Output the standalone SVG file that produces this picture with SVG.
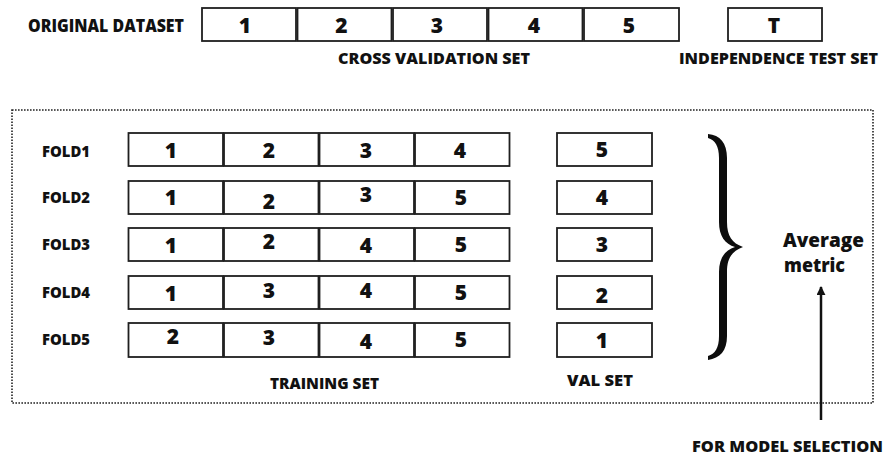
<svg xmlns="http://www.w3.org/2000/svg" width="885" height="456" viewBox="0 0 885 456">
  <style>
    .cell { fill: #ffffff; stroke: #1f1f1f; stroke-width: 1.8; }
    .lbl { font-family: "Open Sans", "Noto Sans", "Liberation Sans", sans-serif; font-weight: 800; fill: #111111; font-size: 15.5px; }
    .big { font-size: 17px; }
    .num { font-family: "Open Sans", "Noto Sans", "Liberation Sans", sans-serif; font-weight: 800; fill: #111111; font-size: 21px; text-anchor: middle; }
    .metric { font-family: "Open Sans", "Noto Sans", "Liberation Sans", sans-serif; font-weight: 800; fill: #111111; font-size: 19px; }
    .frame { fill: none; stroke: #222222; stroke-width: 1.6; stroke-dasharray: 1.6 1.4; }
    .link { stroke: #111111; stroke-width: 2.5; fill: none; }
  </style>
  <defs>
    <marker id="arrowhead" viewBox="0 0 10 10" refX="9" refY="5" markerWidth="3.8" markerHeight="3.6" orient="auto" markerUnits="strokeWidth">
      <path d="M0,0 L10,5 L0,10 Z" fill="#111111"/>
    </marker>
  </defs>

  <rect width="885" height="456" fill="#ffffff"/>

  <!-- original dataset -->
  <g id="original-dataset">
    <text class="lbl big" x="28" y="32" textLength="156" lengthAdjust="spacingAndGlyphs">ORIGINAL DATASET</text>
    <rect class="cell" x="202" y="8" width="94" height="33"/>
    <rect class="cell" x="297.5" y="8" width="94" height="33"/>
    <rect class="cell" x="393" y="8" width="94" height="33"/>
    <rect class="cell" x="488.5" y="8" width="94" height="33"/>
    <rect class="cell" x="584" y="8" width="95" height="33"/>
    <text class="num" x="245" y="33">1</text>
    <text class="num" x="341.5" y="33">2</text>
    <text class="num" x="437" y="33">3</text>
    <text class="num" x="534" y="33">4</text>
    <text class="num" x="629" y="33">5</text>
    <text class="lbl" x="338" y="64" textLength="192" lengthAdjust="spacingAndGlyphs">CROSS VALIDATION SET</text>
  </g>

  <g id="test-set">
    <rect class="cell" x="728" y="8" width="94" height="33"/>
    <text class="num" x="774" y="33">T</text>
    <text class="lbl" x="679" y="64" textLength="199" lengthAdjust="spacingAndGlyphs">INDEPENDENCE TEST SET</text>
  </g>

  <!-- cross validation folds -->
  <rect class="frame" x="12" y="110" width="861" height="293"/>

  <g id="fold1">
    <text class="lbl" x="42" y="157" textLength="48" lengthAdjust="spacingAndGlyphs">FOLD1</text>
    <rect class="cell" x="128.5" y="133" width="94.5" height="33"/>
    <rect class="cell" x="224" y="133" width="94.5" height="33"/>
    <rect class="cell" x="319.5" y="133" width="94.5" height="33"/>
    <rect class="cell" x="415" y="133" width="94.5" height="33"/>
    <rect class="cell" x="557" y="133" width="95" height="33"/>
    <text class="num" x="171" y="158">1</text>
    <text class="num" x="269" y="158">2</text>
    <text class="num" x="366" y="158">3</text>
    <text class="num" x="460" y="158">4</text>
    <text class="num" x="602" y="157">5</text>
  </g>

  <g id="fold2">
    <text class="lbl" x="42" y="203" textLength="48" lengthAdjust="spacingAndGlyphs">FOLD2</text>
    <rect class="cell" x="128.5" y="181" width="94.5" height="33"/>
    <rect class="cell" x="224" y="181" width="94.5" height="33"/>
    <rect class="cell" x="319.5" y="181" width="94.5" height="33"/>
    <rect class="cell" x="415" y="181" width="94.5" height="33"/>
    <rect class="cell" x="557" y="181" width="95" height="33"/>
    <text class="num" x="171" y="205">1</text>
    <text class="num" x="269" y="209">2</text>
    <text class="num" x="366" y="202">3</text>
    <text class="num" x="461" y="205">5</text>
    <text class="num" x="602" y="205">4</text>
  </g>

  <g id="fold3">
    <text class="lbl" x="42" y="250" textLength="48" lengthAdjust="spacingAndGlyphs">FOLD3</text>
    <rect class="cell" x="128.5" y="228" width="94.5" height="33"/>
    <rect class="cell" x="224" y="228" width="94.5" height="33"/>
    <rect class="cell" x="319.5" y="228" width="94.5" height="33"/>
    <rect class="cell" x="415" y="228" width="94.5" height="33"/>
    <rect class="cell" x="557" y="228" width="95" height="33"/>
    <text class="num" x="171" y="253">1</text>
    <text class="num" x="269" y="249">2</text>
    <text class="num" x="366" y="253">4</text>
    <text class="num" x="461" y="252">5</text>
    <text class="num" x="602" y="252">3</text>
  </g>

  <g id="fold4">
    <text class="lbl" x="42" y="298" textLength="48" lengthAdjust="spacingAndGlyphs">FOLD4</text>
    <rect class="cell" x="128.5" y="276" width="94.5" height="33"/>
    <rect class="cell" x="224" y="276" width="94.5" height="33"/>
    <rect class="cell" x="319.5" y="276" width="94.5" height="33"/>
    <rect class="cell" x="415" y="276" width="94.5" height="33"/>
    <rect class="cell" x="557" y="276" width="95" height="33"/>
    <text class="num" x="171" y="301">1</text>
    <text class="num" x="269" y="298">3</text>
    <text class="num" x="366" y="298">4</text>
    <text class="num" x="461" y="300">5</text>
    <text class="num" x="602" y="303">2</text>
  </g>

  <g id="fold5">
    <text class="lbl" x="42" y="345" textLength="48" lengthAdjust="spacingAndGlyphs">FOLD5</text>
    <rect class="cell" x="128.5" y="323" width="94.5" height="34"/>
    <rect class="cell" x="224" y="323" width="94.5" height="34"/>
    <rect class="cell" x="319.5" y="323" width="94.5" height="34"/>
    <rect class="cell" x="415" y="323" width="94.5" height="34"/>
    <rect class="cell" x="557" y="323" width="95" height="34"/>
    <text class="num" x="173" y="344">2</text>
    <text class="num" x="269" y="345">3</text>
    <text class="num" x="366" y="349">4</text>
    <text class="num" x="461" y="347">5</text>
    <text class="num" x="602" y="348">1</text>
  </g>

  <g id="set-labels">
    <text class="lbl" x="270" y="389" textLength="109" lengthAdjust="spacingAndGlyphs">TRAINING SET</text>
    <text class="lbl" x="567" y="386" textLength="66" lengthAdjust="spacingAndGlyphs">VAL SET</text>
  </g>

  <!-- curly brace grouping the five folds -->
  <g id="brace">
    <path fill="#0d0d0d" d="M708,134 C720,135 727,143 727,158 L727,222 C727,236 732,243 743,247 C732,251 727,258 727,272 L727,336 C727,351 720,358 708,360 L708,356 C715,354 719,348 719,336 L719,272 C719,258 725,250 735,247 C725,244 719,236 719,222 L719,158 C719,146 715,140 708,138 Z"/>
  </g>

  <g id="average-metric">
    <text class="metric" x="783" y="247" textLength="81" lengthAdjust="spacingAndGlyphs">Average</text>
    <text class="metric" x="784" y="272" textLength="61" lengthAdjust="spacingAndGlyphs">metric</text>
  </g>

  <g id="model-selection">
    <text class="lbl" x="692" y="452" textLength="191" lengthAdjust="spacingAndGlyphs">FOR MODEL SELECTION</text>
  </g>

  <g id="connectors">
    <line class="link" x1="821" y1="420" x2="821" y2="287" marker-end="url(#arrowhead)"/>
  </g>
</svg>
